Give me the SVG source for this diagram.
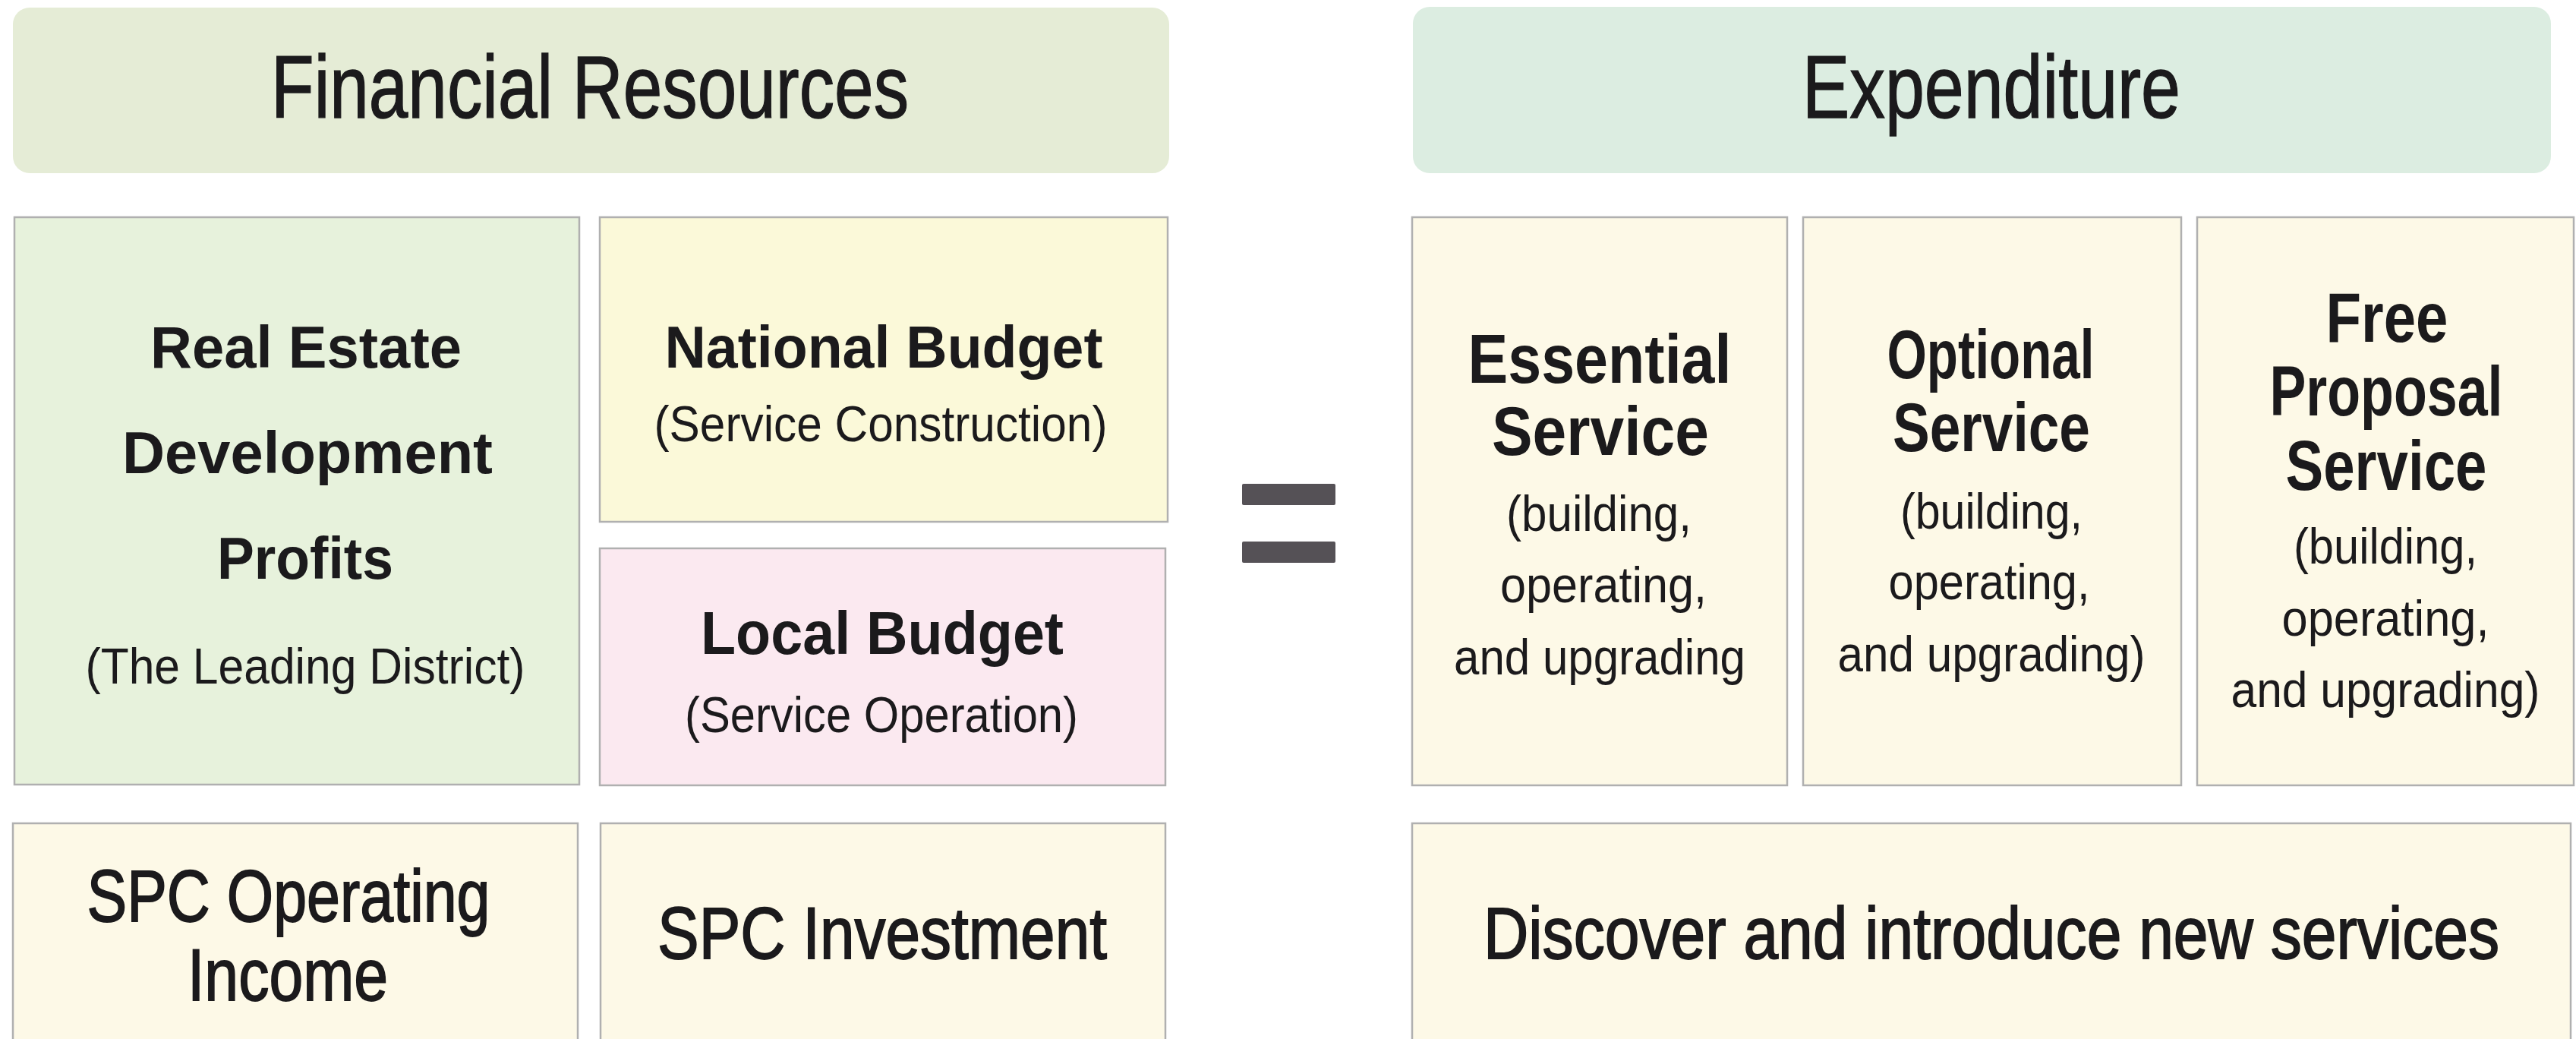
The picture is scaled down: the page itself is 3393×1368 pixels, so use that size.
<svg xmlns="http://www.w3.org/2000/svg" width="3393" height="1368" viewBox="0 0 3393 1368">
  <defs>
    <style>
      .bg { fill: #ffffff; }
      .head { stroke: none; }
      .box { stroke: #b0b0b0; stroke-width: 2.5; }
      .green { fill: #e7f2dc; }
      .yellow { fill: #fbf9d9; }
      .pink { fill: #fbe9f0; }
      .cream { fill: #fdf9e7; }
      text { font-family: "Liberation Sans", Arial, sans-serif; fill: #1b1a1c; text-anchor: middle; }
      .h { font-size: 116px; font-weight: 400; stroke: #1b1a1c; stroke-width: 1.4; }
      .t { font-weight: 700; }
      .s { font-size: 66px; font-weight: 400; }
      .b { font-size: 96px; font-weight: 400; stroke: #1b1a1c; stroke-width: 1.8; }
      .eq { fill: #555156; }
    </style>
  </defs>

  <rect class="bg" x="0" y="0" width="3393" height="1368"/>

  <!-- column headers -->
  <g id="header-financial">
    <rect class="head" x="17" y="10" width="1523" height="218" rx="22" fill="#e5ecd6"/>
    <text class="h" x="777" y="155" textLength="840" lengthAdjust="spacingAndGlyphs">Financial Resources</text>
  </g>
  <g id="header-expenditure">
    <rect class="head" x="1861" y="9" width="1499" height="219" rx="22" fill="#dcede1"/>
    <text class="h" x="2623" y="155" textLength="498" lengthAdjust="spacingAndGlyphs">Expenditure</text>
  </g>

  <!-- financial resources -->
  <g id="real-estate">
    <rect class="box green" x="19" y="286" width="744" height="747"/>
    <text class="t" x="403" y="484" font-size="78" textLength="410" lengthAdjust="spacingAndGlyphs">Real Estate</text>
    <text class="t" x="405" y="623" font-size="78" textLength="488" lengthAdjust="spacingAndGlyphs">Development</text>
    <text class="t" x="402" y="762" font-size="78" textLength="232" lengthAdjust="spacingAndGlyphs">Profits</text>
    <text class="s" x="402" y="900" textLength="579" lengthAdjust="spacingAndGlyphs">(The Leading District)</text>
  </g>

  <g id="national-budget">
    <rect class="box yellow" x="790" y="286" width="748" height="401"/>
    <text class="t" x="1164" y="484" font-size="78" textLength="577" lengthAdjust="spacingAndGlyphs">National Budget</text>
    <text class="s" x="1160" y="581" textLength="597" lengthAdjust="spacingAndGlyphs">(Service Construction)</text>
  </g>

  <g id="local-budget">
    <rect class="box pink" x="790" y="722" width="745" height="312"/>
    <text class="t" x="1162" y="861" font-size="80" textLength="478" lengthAdjust="spacingAndGlyphs">Local Budget</text>
    <text class="s" x="1161" y="964" textLength="518" lengthAdjust="spacingAndGlyphs">(Service Operation)</text>
  </g>

  <g id="spc-operating-income">
    <rect class="box cream" x="17" y="1084" width="744" height="320"/>
    <text class="b" x="380" y="1213" font-size="95" textLength="531" lengthAdjust="spacingAndGlyphs">SPC Operating</text>
    <text class="b" x="379" y="1317" font-size="95" textLength="264" lengthAdjust="spacingAndGlyphs">Income</text>
  </g>

  <g id="spc-investment">
    <rect class="box cream" x="791" y="1084" width="744" height="320"/>
    <text class="b" x="1162" y="1262" font-size="98" textLength="592" lengthAdjust="spacingAndGlyphs">SPC Investment</text>
  </g>

  <!-- equality between the two columns -->
  <g id="equals">
    <rect class="eq" x="1636" y="637" width="123" height="28" rx="2"/>
    <rect class="eq" x="1636" y="713" width="123" height="28" rx="2"/>
  </g>

  <!-- expenditure -->
  <g id="essential-service">
    <rect class="box cream" x="1860" y="286" width="494" height="748"/>
    <text class="t" x="2107" y="504" font-size="90" textLength="347" lengthAdjust="spacingAndGlyphs">Essential</text>
    <text class="t" x="2108" y="599" font-size="90" textLength="286" lengthAdjust="spacingAndGlyphs">Service</text>
    <text class="s" x="2106" y="699" textLength="244" lengthAdjust="spacingAndGlyphs">(building,</text>
    <text class="s" x="2112" y="793" textLength="272" lengthAdjust="spacingAndGlyphs">operating,</text>
    <text class="s" x="2107" y="888" textLength="384" lengthAdjust="spacingAndGlyphs">and upgrading</text>
  </g>

  <g id="optional-service">
    <rect class="box cream" x="2375" y="286" width="498" height="748"/>
    <text class="t" x="2622" y="498" font-size="90" textLength="273" lengthAdjust="spacingAndGlyphs">Optional</text>
    <text class="t" x="2623" y="594" font-size="90" textLength="260" lengthAdjust="spacingAndGlyphs">Service</text>
    <text class="s" x="2623" y="696" textLength="240" lengthAdjust="spacingAndGlyphs">(building,</text>
    <text class="s" x="2620" y="789" textLength="265" lengthAdjust="spacingAndGlyphs">operating,</text>
    <text class="s" x="2623" y="884" textLength="405" lengthAdjust="spacingAndGlyphs">and upgrading)</text>
  </g>

  <g id="free-proposal-service">
    <rect class="box cream" x="2894" y="286" width="496" height="748"/>
    <text class="t" x="3144" y="450" font-size="92" textLength="161" lengthAdjust="spacingAndGlyphs">Free</text>
    <text class="t" x="3143" y="547" font-size="92" textLength="307" lengthAdjust="spacingAndGlyphs">Proposal</text>
    <text class="t" x="3143" y="645" font-size="92" textLength="265" lengthAdjust="spacingAndGlyphs">Service</text>
    <text class="s" x="3142" y="742" textLength="242" lengthAdjust="spacingAndGlyphs">(building,</text>
    <text class="s" x="3142" y="837" textLength="273" lengthAdjust="spacingAndGlyphs">operating,</text>
    <text class="s" x="3142" y="931" textLength="407" lengthAdjust="spacingAndGlyphs">and upgrading)</text>
  </g>

  <g id="new-services">
    <rect class="box cream" x="1860" y="1084" width="1526" height="320"/>
    <!-- condensed by a horizontal scale around the text centre -->
    <text class="b" transform="translate(2623 1262) scale(0.84 1)" x="0" y="0" font-size="98" textLength="1593" lengthAdjust="spacingAndGlyphs">Discover and introduce new services</text>
  </g>
</svg>
